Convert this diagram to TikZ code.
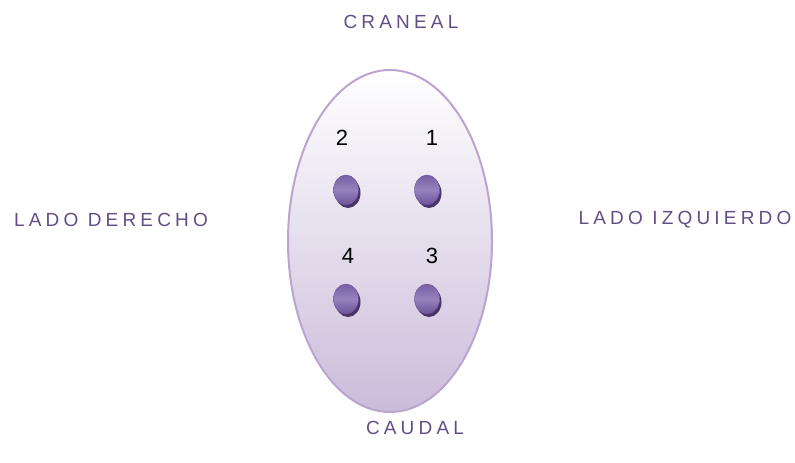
\documentclass[tikz,border=0pt]{standalone}
\usepackage{fontspec}
\setmainfont{Liberation Sans}
\usetikzlibrary{shapes.geometric}
\definecolor{labpurple}{RGB}{98,78,135}
\definecolor{rimpurple}{RGB}{185,165,208}
\definecolor{bodybot}{RGB}{203,188,218}
\definecolor{btntop}{RGB}{120,95,165}
\definecolor{btnmid}{RGB}{150,130,190}
\definecolor{btnbot}{RGB}{108,83,152}
\definecolor{btnshadow}{RGB}{72,52,105}
\tikzset{
  dirlabel/.style={text=labpurple, font=\fontsize{19}{23}\selectfont\addfontfeature{LetterSpace=22}, inner sep=0pt, anchor=center},
  numlabel/.style={text=black, font=\fontsize{22}{26}\selectfont, inner sep=0pt},
  body/.style={ellipse, minimum width=204pt, minimum height=342pt, top color=white, bottom color=bodybot, draw=rimpurple, line width=2pt, inner sep=0pt},
  btnshade/.style={ellipse, minimum width=25pt, minimum height=30pt, fill=btnshadow, inner sep=0pt},
  btn/.style={ellipse, minimum width=25pt, minimum height=30pt, inner sep=0pt, top color=btntop, bottom color=btnbot, middle color=btnmid, draw=btnbot, line width=0.4pt},
}
\begin{document}
\begin{tikzpicture}[x=1pt,y=-1pt]
\useasboundingbox (0,0) rectangle (795,463);
\node[body] (oval) at (390,241) {};
\node[dirlabel] (cran) at (401,22) {CRANEAL};
\node[dirlabel] (caud) at (415,428) {CAUDAL};
\node[dirlabel] (der) at (111,220) {LADO DERECHO};
\node[dirlabel] (izq) at (685,220) {LADO IZQUIERDO};
\node[numlabel] (n2) at (342,138) {2};
\node[numlabel] (n1) at (432,138) {1};
\node[numlabel] (n4) at (348,256) {4};
\node[numlabel] (n3) at (432,256) {3};
\foreach \nm/\px/\py in {b2/346/190, b1/427/190, b4/346/299, b3/427/299}{
  \node[btnshade] (\nm s) at (\px+2,\py+3) {};
  \node[btn] (\nm) at (\px,\py) {};
}
\end{tikzpicture}
\end{document}
